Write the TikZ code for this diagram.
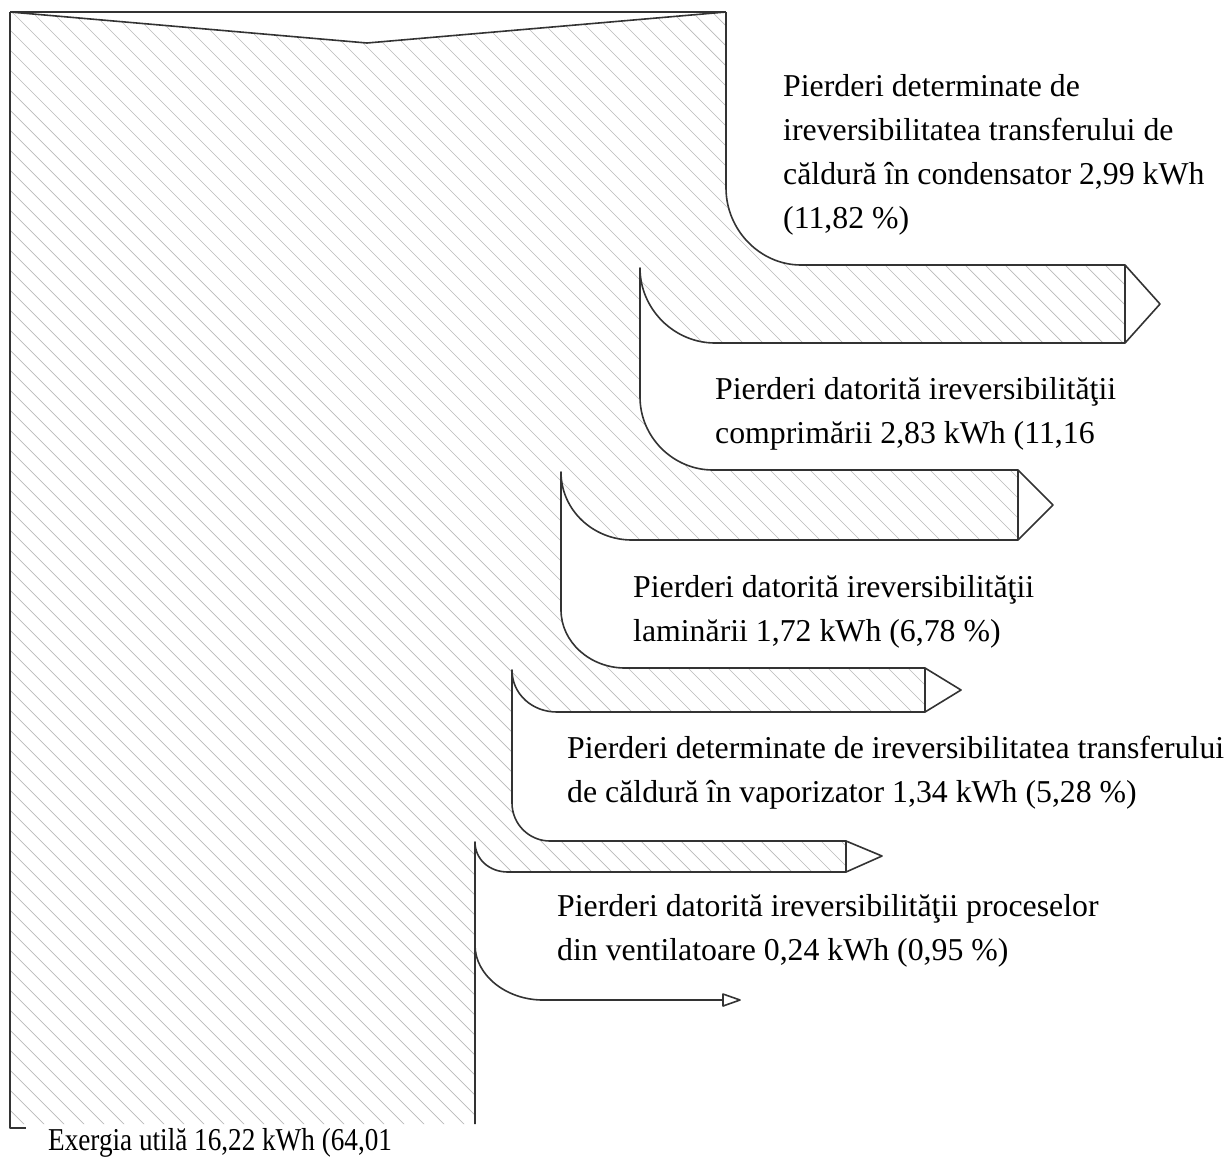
\documentclass[tikz,border=0pt]{standalone}
\usepackage{graphicx}
\usepackage{fontspec}
\setmainfont{Liberation Serif}

\tikzset{
    contur/.style={draw=black!80, line width=1.6pt, line join=round},
    hasura/.style={draw=gray!55, line width=0.7pt},
    eticheta/.style={anchor=base west, inner sep=0pt, align=left,
        font=\fontsize{31.8}{44}\selectfont},
}

\begin{document}
\begin{tikzpicture}[x=1pt, y=-1pt]

    \useasboundingbox (0,0) rectangle (1231,1168);

    % zona hasurata
    \begin{scope}
        \clip (10,12) -- (367,43) -- (726,12) -- (726,188)
            .. controls +(0,42) and +(-41,0) .. (801,265)
            -- (1125,265) -- (1125,343) -- (715,343)
            .. controls +(-41,0) and +(0,41) .. (640,268)
            -- (640,397)
            .. controls +(0,40) and +(-40,0) .. (713,470)
            -- (1018,470) -- (1018,540) -- (632,540)
            .. controls +(-39,0) and +(0,38) .. (561,472)
            -- (561,610)
            .. controls +(0,32) and +(-35,0) .. (625,668)
            -- (925,668) -- (925,712) -- (557,712)
            .. controls +(-25,0) and +(0,24) .. (512,670)
            -- (512,803)
            .. controls +(0,21) and +(-21,0) .. (550,841)
            -- (846,841) -- (846,872) -- (508,872)
            .. controls +(-19,0) and +(0,17) .. (475,842)
            -- (475,1124) -- (10,1124) -- cycle;
        \foreach \i in {-1200,-1180,...,1200}
            \draw[hasura] (\i,0) -- ++(1200,1200);
    \end{scope}

    % contur
    \draw[contur] (10,12) -- (726,12);
    \draw[contur] (10,12) -- (367,43) -- (726,12);
    \draw[contur] (10,12) -- (10,1128) -- (26,1128);
    \draw[contur] (726,12) -- (726,188)
        .. controls +(0,42) and +(-41,0) .. (801,265)
        -- (1125,265) -- (1125,343) -- (715,343)
        .. controls +(-41,0) and +(0,41) .. (640,268)
        -- (640,397)
        .. controls +(0,40) and +(-40,0) .. (713,470)
        -- (1018,470) -- (1018,540) -- (632,540)
        .. controls +(-39,0) and +(0,38) .. (561,472)
        -- (561,610)
        .. controls +(0,32) and +(-35,0) .. (625,668)
        -- (925,668) -- (925,712) -- (557,712)
        .. controls +(-25,0) and +(0,24) .. (512,670)
        -- (512,803)
        .. controls +(0,21) and +(-21,0) .. (550,841)
        -- (846,841) -- (846,872) -- (508,872)
        .. controls +(-19,0) and +(0,17) .. (475,842)
        -- (475,1124);

    % varfuri
    \draw[contur] (1125,265) -- (1160,304) -- (1125,343);
    \draw[contur] (1018,470) -- (1053,505) -- (1018,540);
    \draw[contur] (925,668) -- (961,690) -- (925,712);
    \draw[contur] (846,841) -- (882,856) -- (846,872);
    \draw[contur] (475,945) .. controls +(0,30) and +(-37,0) .. (543,1000)
        -- (723,1000);
    \draw[contur] (723,994) -- (740,1000) -- (723,1006) -- cycle;

    % etichete (ancorate la ultimul rand)
    \node[eticheta] (cond) at (783,228) {Pierderi determinate de\\ireversibilitatea transferului de\\căldură în condensator 2,99 kWh\\(11,82 \%)};
    \node[eticheta] (compr) at (715,443) {Pierderi datorită ireversibilităţii\\comprimării 2,83 kWh (11,16};
    \node[eticheta] (lamin) at (633,641) {Pierderi datorită ireversibilităţii\\laminării 1,72 kWh (6,78 \%)};
    \node[eticheta] (vapor) at (567,802) {Pierderi determinate de ireversibilitatea transferului\\de căldură în vaporizator 1,34 kWh (5,28 \%)};
    \node[eticheta] (vent) at (557,960) {Pierderi datorită ireversibilităţii proceselor\\din ventilatoare 0,24 kWh (0,95 \%)};
    \node[eticheta] (util) at (48,1150) {\scalebox{0.855}[1]{Exergia utilă 16,22 kWh (64,01}};

\end{tikzpicture}
\end{document}
